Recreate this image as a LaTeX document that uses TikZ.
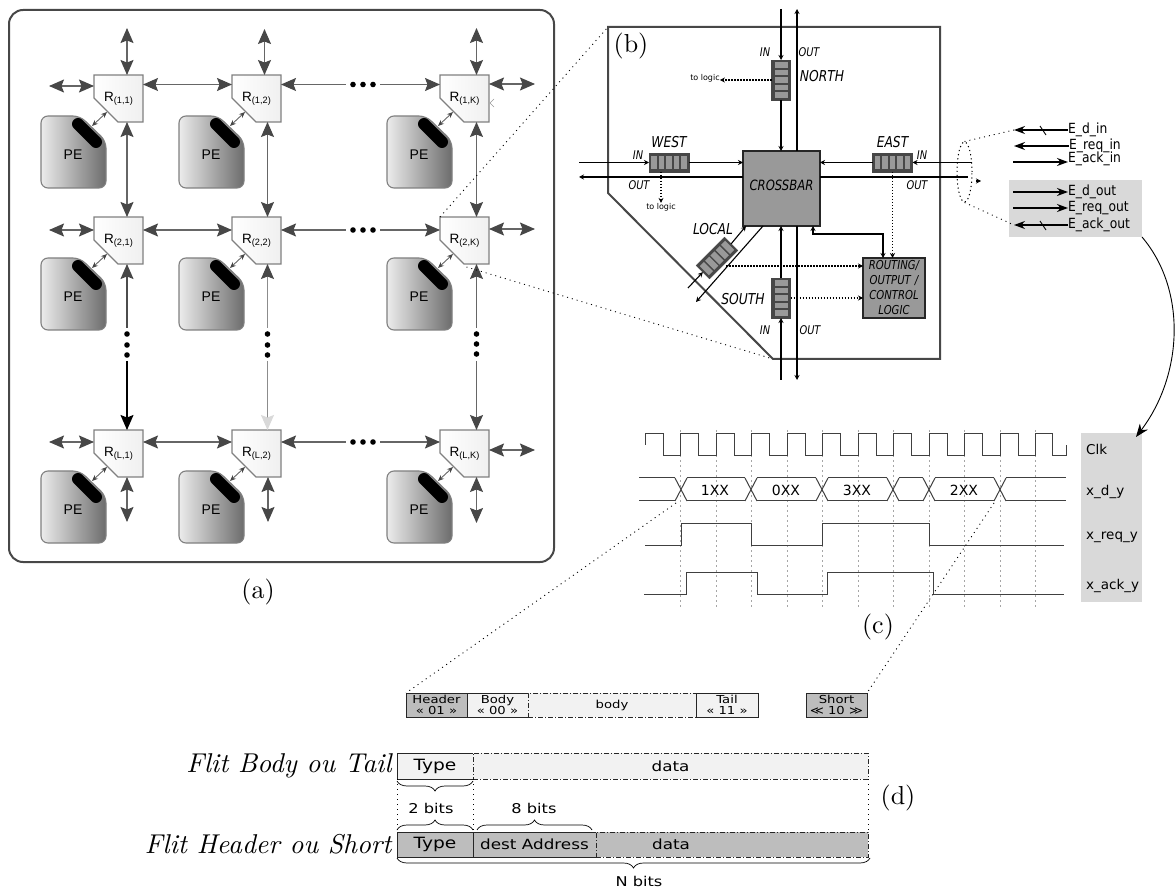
\documentclass[tikz,border=0pt]{standalone}
\usepackage{fontspec}
\usetikzlibrary{arrows.meta,positioning,shapes.geometric,decorations.pathreplacing}
\newfontfamily\routerfont{Liberation Sans}
\newfontfamily\labelfont{DejaVu Sans}
\newfontfamily\condfont[FakeStretch=0.82]{DejaVu Sans}
\newfontfamily\portfont[FakeStretch=0.88]{DejaVu Sans}
\newfontfamily\flitfont[FakeStretch=1.2]{DejaVu Sans}
\newcommand{\pxfont}[2]{\fontsize{#1}{#2}\selectfont}
\definecolor{netdark}{gray}{0.28}
\definecolor{netline}{gray}{0.40}
\definecolor{panelgray}{gray}{0.85}
\definecolor{flitdark}{gray}{0.74}
\definecolor{flitlight}{gray}{0.95}
\definecolor{crossgray}{gray}{0.60}
\tikzset{
  nettip/.tip={Stealth[length=15pt,width=13pt,inset=2.5pt]},
  sigtip/.tip={Stealth[length=5pt,width=5pt]},
  % (a) the mesh
  routerbody/.style={draw=gray, line width=1.1pt, left color=white, right color=gray!12},
  routerbox/.style={rectangle, minimum width=49pt, minimum height=47pt, inner sep=0pt,
                    outer sep=0pt, font=\routerfont\pxfont{13.5}{14}},
  pebody/.style={draw=gray, line width=1.1pt, rounded corners=7pt,
                 left color=gray!15, right color=gray!85!black},
  pepill/.style={line width=12pt, line cap=round, black},
  petext/.style={inner sep=0pt, font=\routerfont\pxfont{14}{14}},
  peport/.style={{Stealth[length=6pt,width=5pt,color=netdark]}-{Stealth[length=6pt,width=5pt,color=netdark]},
                 line width=0.9pt, draw=netline},
  netarrow/.style={{nettip[color=netdark]}-{nettip[color=netdark]},
                   line width=1.1pt, draw=netline},
  netup/.style={{nettip[color=netdark]}-, line width=1.1pt, draw=#1},
  netdown/.style={-{nettip[color=#1]}, line width=1.1pt, draw=#1},
  netright/.style={-{nettip[color=netdark]}, line width=1.1pt, draw=netline},
  % (b) the router
  panelb/.style={draw=netdark, line width=2pt},
  crossbox/.style={rectangle, draw=black!85, line width=1.1pt, fill=crossgray, minimum width=77pt,
                   minimum height=75pt, inner sep=0pt, outer sep=0pt},
  logicbox/.style={rectangle, draw=black!85, line width=1.1pt, fill=crossgray, minimum width=62pt,
                   minimum height=60pt, inner sep=0pt, outer sep=0pt, align=center,
                   text width=62pt, font=\condfont\itshape\pxfont{12.3}{15}},
  queuebox/.style={rectangle, fill=black!72, draw=black!72, minimum width=40pt,
                   minimum height=19pt, inner sep=0pt, outer sep=0pt},
  queuecell/.style={fill=crossgray},
  sigarrow/.style={-{sigtip}, line width=1.1pt},
  sigboth/.style={{sigtip}-{sigtip}, line width=1.1pt},
  sigline/.style={line width=1.1pt},
  dotarrow/.style={-{sigtip}, line width=1.2pt, dash pattern=on 1.5pt off 1.5pt},
  portarrow/.style={-{Stealth[length=11pt,width=8pt]}, line width=1.2pt},
  zoomline/.style={line width=0.9pt, dash pattern=on 1pt off 4pt},
  biglabel/.style={inner sep=0pt, font=\condfont\itshape\pxfont{15}{15}},
  iolabel/.style={inner sep=0pt, font=\condfont\itshape\pxfont{12}{12}},
  logiclabel/.style={inner sep=0pt, font=\labelfont\pxfont{8}{8}},
  portlabel/.style={inner sep=0pt, anchor=west, font=\portfont\pxfont{14}{14}},
  % (c) the waveforms
  wave/.style={line width=1pt, draw=black!75},
  guide/.style={line width=0.8pt, gray!70, dash pattern=on 2pt off 3pt},
  wavelabel/.style={inner sep=0pt, anchor=west, font=\labelfont\pxfont{13.5}{14}},
  buslabel/.style={inner sep=0pt, font=\labelfont\pxfont{14}{14}},
  % (d) the flits
  flitcell/.style={rectangle, draw=black!85, line width=0.8pt, inner sep=0pt, outer sep=0pt,
                   align=center, font=\flitfont\pxfont{11}{11}},
  flitdash/.style={draw=black!85, line width=0.8pt, dash pattern=on 5pt off 2pt on 1pt off 2pt},
  fieldcell/.style={flitcell, font=\flitfont\pxfont{14}{14}},
  fieldtext/.style={inner sep=0pt, font=\flitfont\pxfont{13.5}{14}},
  bracetop/.style={decorate, decoration={brace, amplitude=#1}, line width=0.7pt},
  bracelow/.style={decorate, decoration={brace, mirror, amplitude=#1}, line width=0.7pt},
  figlabel/.style={inner sep=0pt, scale=2.6},
  flitname/.style={inner sep=0pt, scale=2.72, font=\itshape},
}
% name, left, top, label
\newcommand{\routerpe}[4]{
  \draw[pebody] (#2-53,#3+41) -- (#2-14,#3+41) -- (#2+12,#3+66) -- (#2+12,#3+113) -- (#2-53,#3+113) -- cycle;
  \draw[pepill] (#2-16,#3+49) -- (#2+2,#3+67);
  \node[petext] (pe#1) at (#2-21,#3+80) {PE};
  \draw[routerbody] (#2,#3) -- (#2+49,#3) -- (#2+49,#3+47) -- (#2+24,#3+47) -- (#2,#3+23) -- cycle;
  \node[routerbox] (r#1) at (#2+24.5,#3+23.5)
    {\raisebox{3pt}{R\raisebox{-2pt}{\routerfont\pxfont{9.2}{10}(#4)}}};
  \coordinate (pa#1) at (#2-2,#3+51);
  \coordinate (ra#1) at (#2+13,#3+37);
  \draw[peport] (pa#1) -- (ra#1);
}
% name, x, y, angle
\newcommand{\queue}[4]{
  \node[queuebox, rotate=#4] (#1) at (#2,#3) {};
  \begin{scope}[shift={(#2,#3)},rotate=#4]
    \foreach \i in {-2,...,2}
      \fill[queuecell] (\i*7.5-2.9,-6.5) rectangle (\i*7.5+2.9,6.5);
  \end{scope}
}
\begin{document}
\begin{tikzpicture}[x=1pt,y=-1pt]
  \useasboundingbox (0,0) rectangle (1176,890);
  % (a) mesh
  \draw[draw=netdark, line width=2pt, rounded corners=14pt] (9,10) rectangle (554,562);
  \foreach \col/\colx in {1/94,2/232,K/440}
    \foreach \row/\rowy in {1/75,2/217,L/430}
      {\routerpe{\row\col}{\colx}{\rowy}{\row,\col}}

  % free ends of the mesh
  \coordinate (n1) at (127,28);
  \coordinate (n2) at (264.5,29);
  \coordinate (nK) at (476.5,28);
  \coordinate (s1) at (127,522);
  \coordinate (s2) at (268,522);
  \coordinate (sK) at (476.5,523);
  \coordinate (w1) at (49,86);
  \coordinate (w2) at (49,230);
  \coordinate (wL) at (49,442);
  \coordinate (e1) at (535,84);
  \coordinate (e2) at (535,229);
  \coordinate (eL) at (535,450);
  \draw[netarrow] (n1) -- (n1 |- r11.north);
  \draw[netarrow] (n2) -- (n2 |- r12.north);
  \draw[netarrow] (nK) -- (nK |- r1K.north);
  \draw[netarrow] (s1) -- (s1 |- rL1.south);
  \draw[netarrow] (s2) -- (s2 |- rL2.south);
  \draw[netarrow] (sK) -- (sK |- rLK.south);
  \foreach \row in {1,2,L} {
    \draw[netarrow] (w\row) -- (w\row -| r\row1.west);
    \draw[netarrow] (e\row) -- (e\row -| r\row K.east);
  }

  % between the routers
  \coordinate (h1) at (0,84.5);
  \coordinate (h2) at (0,230);
  \coordinate (hL) at (0,442);
  \coordinate (v1) at (127,0);
  \coordinate (v2) at (267.5,0);
  \coordinate (vK) at (476.5,0);
  \coordinate (ha) at (346,0);
  \coordinate (hb) at (380,0);
  \foreach \row in {1,2,L} {
    \draw[netarrow] (h\row -| r\row1.east) -- (h\row -| r\row2.west);
    \draw[netup=netline] (h\row -| r\row2.east) -- (h\row -| ha);
    \draw[netright] (h\row -| hb) -- (h\row -| r\row K.west);
    \foreach \dotx in {353,363,373}
      \fill[black] (\dotx,0 |- h\row) circle (2.8pt);
  }
  \draw[netarrow] (v1 |- r11.south) -- (v1 |- r21.north);
  \draw[netarrow] (v2 |- r12.south) -- (v2 |- r22.north);
  \draw[netarrow] (vK |- r1K.south) -- (vK |- r2K.north);
  \coordinate (ga) at (0,328);
  \coordinate (gb) at (0,361);
  \draw[netup=black!70] (v1 |- r21.south) -- (v1 |- ga);
  \draw[netup=gray!90] (v2 |- r22.south) -- (v2 |- ga);
  \draw[netup=netline] (vK |- r2K.south) -- (vK |- ga);
  \draw[netdown=black] (v1 |- gb) -- (v1 |- rL1.north);
  \draw[netdown=gray!30, draw=gray!90] (v2 |- gb) -- (v2 |- rL2.north);
  \draw[netright] (vK |- gb) -- (vK |- rLK.north);
  \foreach \dotx/\doty in {127/334,127/345,127/355,267.5/334,267.5/345,267.5/355,476.5/334,476.5/344,476.5/354}
    \fill[black] (\dotx,\doty) circle (2.8pt);
  \draw[gray!80, line width=0.6pt] (494,99) -- (490,103) -- (494,107);
  \node[figlabel] (laba) at (258,592) {(a)};

  % (b) router detail
  \coordinate (bnw) at (608,27);
  \coordinate (bne) at (940,27);
  \coordinate (bse) at (940,359);
  \coordinate (bsw) at (773,359);
  \coordinate (bwc) at (608,193);
  \draw[panelb] (bnw) -- (bne) -- (bse) -- (bsw) -- (bwc) -- cycle;
  \node[figlabel] (labb) at (631,46) {(b)};
  \draw[zoomline] (r2K.north west) -- (bnw);
  \draw[zoomline] ([xshift=2pt,yshift=-3pt]r2K.south) -- (bsw);
  \node[crossbox] (xbar) at (781.5,188.5)
    {\raisebox{6pt}{\condfont\itshape\pxfont{14.2}{15}CROSSBAR}};
  \node[logicbox] (logic) at (894,288) {ROUTING/\\OUTPUT /\\CONTROL\\LOGIC};
  \queue{qn}{781}{80}{90}
  \queue{qw}{669}{162.5}{0}
  \queue{qe}{892.5}{162.5}{0}
  \queue{qs}{781}{298}{90}
  \queue{ql}{717}{258}{45}
  \node[biglabel] (lnorth) at (822,76) {NORTH};
  \node[biglabel, above=5pt of qw] (lwest) {WEST};
  \node[biglabel, above=5pt of qe] (least) {EAST};
  \node[biglabel] (lsouth) at (743,299) {SOUTH};
  \node[biglabel] (llocal) at (713,229) {LOCAL};
  \foreach \x/\y/\name/\txt in {765/52/ina/IN,809/52/outa/OUT,638/155/inb/IN,639/185/outb/OUT,
      922/155/inc/IN,917/185/outc/OUT,765/330/ind/IN,810/330/outd/OUT}
    \node[iolabel] (\name) at (\x,\y) {\txt};
  % north
  \coordinate (nin) at (781,9);
  \coordinate (nout) at (797,9);
  \draw[sigarrow] (nin) -- (qn.east);
  \draw[sigarrow] (qn.west) -- (qn.west |- xbar.north);
  \draw[sigarrow] (nout |- xbar.north) -- (nout);
  \node[logiclabel] (tologicn) at (705,78) {to logic};
  \draw[dotarrow] (qn.north) -- (qn.north -| tologicn.east);
  % west
  \coordinate (win) at (579,162.5);
  \coordinate (wout) at (579,177);
  \draw[sigarrow] (win) -- (qw.west);
  \draw[sigarrow] (qw.east) -- (qw.east -| xbar.west);
  \draw[sigarrow] (wout -| xbar.west) -- (wout);
  \node[logiclabel] (tologicw) at (661,207) {to logic};
  \draw[dotarrow] ([xshift=-8pt]qw.south) -- (tologicw.north);
  % east
  \coordinate (ein) at (972,162.5);
  \coordinate (eout) at (968,177);
  \draw[sigarrow] (ein) -- (qe.east);
  \draw[sigarrow] (qe.west) -- (qe.west -| xbar.east);
  \draw[sigline] (eout -| xbar.east) -- (eout);
  \draw[dotarrow] (qe.south) -- (qe.south |- logic.north);
  % south
  \coordinate (sin) at (781,380);
  \coordinate (sout) at (797,380);
  \draw[sigarrow] (sin) -- (qs.west);
  \draw[sigarrow] (qs.east) -- (qs.east |- xbar.south);
  \draw[sigarrow] (sout |- xbar.south) -- (sout);
  \draw[dotarrow] (qs.south) -- (qs.south -| logic.west);
  % local
  \coordinate (lin) at (688,288);
  \coordinate (lto) at (746,226);
  \coordinate (lfrom) at (763,226);
  \coordinate (lout) at (696,302);
  \coordinate (lq) at (726,266);
  \draw[sigarrow] (lin) -- (ql.west);
  \draw[sigarrow] (ql.east) -- (lto);
  \draw[sigarrow] (lfrom) -- (lout);
  \draw[dotarrow] (lq) -- (lq -| logic.west);
  % crossbar to logic
  \coordinate (lup) at (813,234);
  \coordinate (lturn) at (883,234);
  \draw[sigboth] (lup |- xbar.south) -- (lup) -- (lturn) -- (lturn |- logic.north);

  % east port signals
  \node[ellipse, draw, line width=1pt, dash pattern=on 1.2pt off 3pt, minimum width=15pt,
        minimum height=60pt, inner sep=0pt] (cut) at (964.5,172) {};
  \coordinate (ctip) at (976,181);
  \coordinate (ctipb) at (981,181);
  \draw[sigarrow] (ctip) -- (ctipb);
  \node[rectangle, fill=panelgray, minimum width=133pt, minimum height=57pt, inner sep=0pt,
        outer sep=0pt] (egroup) at (1075.5,208.5) {};
  \node[portlabel] (edin) at (1068,130) {E\_d\_in};
  \node[portlabel] (ereqin) at (1069,146) {E\_req\_in};
  \node[portlabel] (eackin) at (1068,159) {E\_ack\_in};
  \node[portlabel] (edout) at (1068,192) {E\_d\_out};
  \node[portlabel] (ereqout) at (1068,208) {E\_req\_out};
  \node[portlabel] (eackout) at (1068,225) {E\_ack\_out};
  \coordinate (pl) at (1014,0);
  \coordinate (pr) at (1013,0);
  \coordinate (packin) at (1013,162);
  \draw[portarrow] (edin.west) -- (edin.west -| pl);
  \draw[portarrow] (ereqin.west) -- (ereqin.west -| pl);
  \draw[portarrow] (packin) -- (packin -| eackin.west);
  \draw[portarrow] (edout.west -| pr) -- (edout.west);
  \draw[portarrow] (ereqout.west -| pr) -- (ereqout.west);
  \draw[portarrow] (eackout.west) -- (eackout.west -| pl);
  \draw[line width=0.9pt] (1040,126) -- (1046,135);
  \draw[line width=0.9pt] (1040,221) -- (1046,230);
  \draw[zoomline] (cut.north) -- (edin.west -| pl);
  \draw[zoomline] (cut.south) -- (eackout.west -| pl);

  % (c) waveforms
  \foreach \k in {0,...,10}
    \draw[guide] (680.7+35.5*\k,430) -- (680.7+35.5*\k,609);
  \node[rectangle, fill=panelgray, minimum width=61pt, minimum height=169pt, inner sep=0pt,
        outer sep=0pt] (wavebox) at (1111.5,517.5) {};
  \node[wavelabel] (lclk) at (1086,449) {Clk};
  \node[wavelabel] (ldata) at (1086,492) {x\_d\_y};
  \node[wavelabel] (lreq) at (1086,537) {x\_req\_y};
  \node[wavelabel] (lack) at (1086,586) {x\_ack\_y};
  \draw[wave] (645,445) -- (645,434) -- (663,434) -- (663,456) -- (680.7,456);
  \foreach \k in {0,...,9}
    \draw[wave] (680.7+35.5*\k,456) -- (680.7+35.5*\k,434) -- (698.7+35.5*\k,434)
      -- (698.7+35.5*\k,456) -- (716.2+35.5*\k,456);
  \draw[wave] (1035.7,456) -- (1035.7,434) -- (1052.7,434) -- (1052.7,456) -- (1066.7,456) -- (1066.7,445);
  \foreach \c in {681,751,822,893,929,1000} {
    \draw[wave] (\c-6,478) -- (\c+6,501);
    \draw[wave] (\c-6,501) -- (\c+6,478);
  }
  \foreach \a/\b in {639/675,687/745,757/816,828/887,899/923,935/994,1006/1066} {
    \draw[wave] (\a,478) -- (\b,478);
    \draw[wave] (\a,501) -- (\b,501);
  }
  \node[buslabel] (bus1) at (715,490) {1XX};
  \node[buslabel] (bus0) at (786,490) {0XX};
  \node[buslabel] (bus3) at (857,490) {3XX};
  \node[buslabel] (bus2) at (964,490) {2XX};
  \draw[wave] (645,545) -- (681.5,545) -- (681.5,523) -- (751,523) -- (751,545) -- (822,545)
    -- (822,523) -- (929,523) -- (929,545) -- (1064,545);
  \draw[wave] (644,594) -- (686,594) -- (686,572) -- (757,572) -- (757,594) -- (827,594)
    -- (827,572) -- (933,572) -- (933,594) -- (1064,594);
  \node[figlabel] (labc) at (878,627) {(c)};
  \draw[-{Stealth[length=13pt,width=10pt]}, line width=0.9pt] (egroup.south east)
    .. controls (1187,290) and (1183,375) .. ([xshift=-6pt,yshift=-4pt]wavebox.north east);

  % (d) flits
  \node[flitcell, fill=flitdark, minimum width=61pt, minimum height=24pt] (fhead) at (436.5,705)
    {Header\\« 01 »};
  \node[flitcell, draw=none, fill=flitlight, minimum width=61pt, minimum height=24pt,
        right=0pt of fhead] (fbody) {Body\\« 00 »};
  \node[flitcell, flitdash, fill=flitlight, minimum width=168pt, minimum height=24pt,
        right=0pt of fbody] (fmid) {body};
  \draw[draw=black!85, line width=0.8pt] (fbody.north east) -- (fbody.north west) -- (fbody.south west) -- (fbody.south east);
  \node[flitcell, fill=flitlight, minimum width=62pt, minimum height=24pt,
        right=0pt of fmid] (ftail) {Tail\\« 11 »};
  \node[flitcell, fill=flitdark, minimum width=61pt, minimum height=24pt] (fshort) at (836.5,705)
    {Short\\≪ 10 ≫};
  \coordinate (busa) at (676,503);
  \coordinate (busb) at (994,503);
  \draw[zoomline] (busa) -- (fhead.north west);
  \draw[zoomline] (busb) -- (fshort.north east);

  \node[fieldcell, fill=flitlight, minimum width=76pt, minimum height=26pt] (ftypea) at (435,766)
    {\pxfont{15.5}{16}Type};
  \node[fieldcell, flitdash, fill=flitlight, minimum width=395pt, minimum height=26pt,
        right=0pt of ftypea] (fdataa) {data};
  \node[fieldcell, fill=flitdark, minimum width=76pt, minimum height=25pt] (ftypeb) at (435,844.5)
    {\pxfont{15.5}{16}Type};
  \node[fieldcell, fill=flitdark, minimum width=123pt, minimum height=25pt,
        right=0pt of ftypeb] (faddr) {dest Address};
  \node[fieldcell, flitdash, fill=flitdark, minimum width=272pt, minimum height=25pt,
        right=0pt of faddr] (fdatab) {\hspace{-122pt}data};
  \node[flitname, left=5pt of ftypea] (lbody) {Flit Body ou Tail};
  \node[flitname, left=5pt of ftypeb] (lhead) {Flit Header ou Short};
  \node[figlabel] (labd) at (898,798) {(d)};
  \draw[zoomline] (ftypea.south west) -- (ftypeb.north west);
  \draw[zoomline] (ftypea.south east) -- (ftypeb.north east);
  \draw[zoomline] (fdataa.south east) -- (fdatab.north east);
  \draw[bracelow=10pt] ([yshift=-2pt]ftypea.south west) -- ([yshift=-2pt]ftypea.south east);
  \draw[bracetop=10pt] ([yshift=2pt]ftypeb.north west) -- ([yshift=2pt]ftypeb.north east);
  \draw[bracetop=10pt] ([xshift=4pt,yshift=2pt]faddr.north west) -- ([xshift=-4pt,yshift=2pt]faddr.north east);
  \draw[bracelow=10pt] ([yshift=-1pt]ftypeb.south west) -- ([xshift=2pt,yshift=-1pt]fdatab.south east);
  \node[fieldtext] (bits2) at (431,808) {2 bits};
  \node[fieldtext] (bits8) at (534,808) {8 bits};
  \node[fieldtext] (bitsn) at (639,881) {N bits};
\end{tikzpicture}
\end{document}
